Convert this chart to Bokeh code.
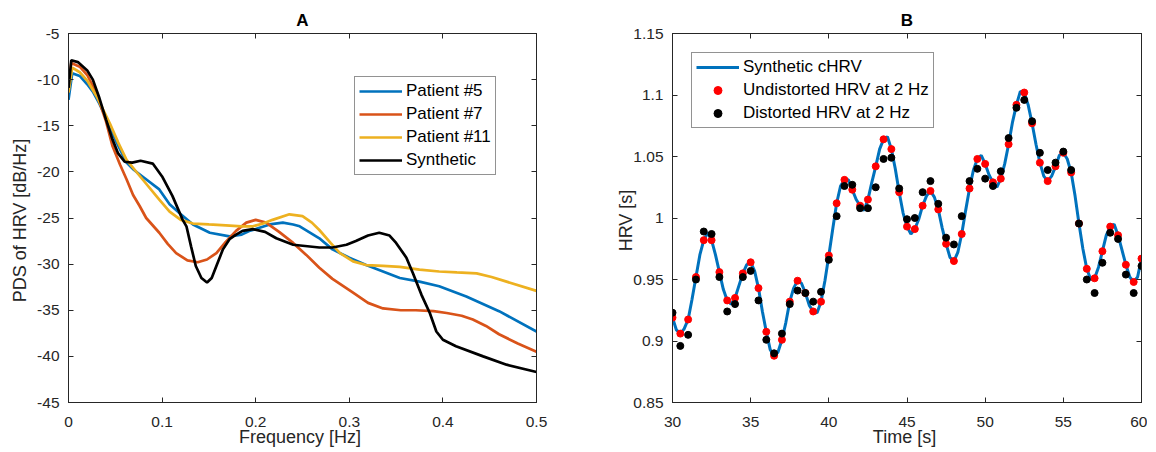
from bokeh.plotting import figure
from bokeh.models import Range1d, FixedTicker, LinearAxis, Legend, LegendItem
from bokeh.layouts import row
from bokeh.embed import file_html
from bokeh.resources import INLINE

FONT = "Liberation Sans"
AX = "#262626"

# ---------------- Panel A: PDS of HRV ----------------
P5_F = [0, 0.004, 0.012, 0.02, 0.026, 0.033, 0.04, 0.05, 0.062, 0.07, 0.079, 0.097, 0.108,
        0.12, 0.133, 0.151, 0.172, 0.185, 0.193, 0.2, 0.215, 0.229, 0.24, 0.247, 0.268,
        0.282, 0.3, 0.318, 0.354, 0.375, 0.396, 0.425, 0.46, 0.5]
P5_DB = [-12.2, -9.3, -9.6, -10.5, -11.3, -12.6, -14.1, -16.5, -19.0, -19.8, -20.5, -21.9, -23.5,
         -24.6, -25.7, -26.6, -27.0, -26.8, -26.4, -26.2, -25.7, -25.5, -25.7, -25.9, -27.2,
         -28.4, -29.3, -30.1, -31.5, -31.9, -32.4, -33.5, -35.1, -37.3]

P7_F = [0, 0.003, 0.012, 0.02, 0.03, 0.04, 0.047, 0.055, 0.062, 0.069, 0.076, 0.083, 0.097,
        0.106, 0.115, 0.127, 0.138, 0.148, 0.158, 0.168, 0.179, 0.19, 0.2, 0.211, 0.225,
        0.24, 0.254, 0.268, 0.282, 0.304, 0.32, 0.336, 0.355, 0.371, 0.39, 0.404, 0.42,
        0.432, 0.446, 0.46, 0.48, 0.5]
P7_DB = [-10.8, -8.2, -8.6, -9.5, -11.5, -14.5, -17.2, -19.2, -20.8, -22.5, -23.7, -25.0, -26.6,
         -27.8, -28.8, -29.6, -29.8, -29.5, -28.8, -27.6, -26.4, -25.5, -25.2, -25.5, -26.5,
         -27.7, -29.0, -30.4, -31.6, -33.1, -34.2, -34.8, -35.0, -35.0, -35.1, -35.3, -35.6,
         -36.0, -36.7, -37.6, -38.6, -39.5]

P11_F = [0, 0.004, 0.012, 0.02, 0.03, 0.044, 0.053, 0.062, 0.079, 0.097, 0.108, 0.12, 0.133,
         0.15, 0.168, 0.185, 0.197, 0.208, 0.218, 0.236, 0.25, 0.26, 0.268, 0.28, 0.29,
         0.304, 0.318, 0.336, 0.354, 0.375, 0.396, 0.415, 0.436, 0.452, 0.468, 0.5]
P11_DB = [-11.4, -8.7, -9.2, -10.1, -11.8, -14.7, -16.8, -18.7, -20.8, -23.0, -24.3, -25.2, -25.6,
          -25.7, -25.8, -25.9, -25.9, -25.6, -25.2, -24.6, -24.8, -25.5, -26.3, -27.7, -28.8,
          -29.7, -30.1, -30.2, -30.3, -30.6, -30.8, -30.9, -31.0, -31.4, -31.9, -32.9]

SYN_F = [0, 0.003, 0.01, 0.02, 0.026, 0.033, 0.04, 0.047, 0.053, 0.06, 0.068, 0.077, 0.09,
         0.1, 0.111, 0.122, 0.126, 0.131, 0.136, 0.142, 0.148, 0.153, 0.158, 0.165, 0.172,
         0.179, 0.186, 0.197, 0.21, 0.222, 0.24, 0.268, 0.282, 0.297, 0.307, 0.32, 0.332,
         0.343, 0.35, 0.361, 0.368, 0.377, 0.386, 0.393, 0.4, 0.414, 0.443, 0.468, 0.5]
SYN_DB = [-10.9, -7.9, -8.1, -9.0, -10.0, -12.0, -14.3, -16.5, -18.0, -18.9, -19.0, -18.8, -19.1,
          -20.5, -22.6, -25.2, -25.9, -28.1, -30.2, -31.5, -32.0, -31.5, -30.2, -28.4, -27.3,
          -26.8, -26.4, -26.2, -26.5, -27.2, -27.9, -28.2, -28.2, -27.9, -27.5, -26.9, -26.6,
          -26.9, -27.7, -29.3, -31.0, -33.3, -35.3, -37.3, -38.2, -38.9, -40.0, -40.9, -41.7]

A_X_TICKS = [0, 0.1, 0.2, 0.3, 0.4, 0.5]
A_X_LABELS = ["0", "0.1", "0.2", "0.3", "0.4", "0.5"]
A_Y_TICKS = [-45, -40, -35, -30, -25, -20, -15, -10, -5]
A_Y_LABELS = ["-45", "-40", "-35", "-30", "-25", "-20", "-15", "-10", "-5"]

# ---------------- Panel B: HRV time series ----------------
CHRV_T = [30 + 0.25 * i for i in range(121)]
CHRV_V = [0.919, 0.909, 0.906, 0.910,
          0.9175, 0.934, 0.952, 0.970,
          0.982, 0.988, 0.982, 0.970,
          0.956, 0.942, 0.933, 0.930,
          0.935, 0.945, 0.955, 0.962,
          0.964, 0.957, 0.943, 0.924,
          0.9075, 0.893, 0.888, 0.891,
          0.901, 0.915, 0.932, 0.943,
          0.949, 0.947, 0.939, 0.929,
          0.924, 0.923, 0.932, 0.949,
          0.9695, 0.991, 1.012, 1.026,
          1.031, 1.031, 1.023, 1.015,
          1.010, 1.006, 1.015, 1.029,
          1.042, 1.056, 1.064, 1.066,
          1.056, 1.040, 1.021, 1.004,
          0.993, 0.987, 0.991, 0.999,
          1.010, 1.018, 1.022, 1.017,
          1.007, 0.992, 0.979, 0.968,
          0.965, 0.972, 0.987, 1.006,
          1.024, 1.039, 1.048, 1.051,
          1.044, 1.035, 1.029, 1.025,
          1.032, 1.044, 1.060, 1.078,
          1.092, 1.103, 1.102, 1.092,
          1.077, 1.060, 1.045, 1.034,
          1.030, 1.034, 1.042, 1.051,
          1.053, 1.048, 1.037, 1.018,
          0.9955, 0.975, 0.9587, 0.950,
          0.951, 0.960, 0.973, 0.986,
          0.993, 0.995, 0.986, 0.974,
          0.962, 0.952, 0.948, 0.952,
          0.967]

SAMPLE_T = [30 + 0.5 * i for i in range(61)]
UNDISTORTED = [0.919, 0.906, 0.9175, 0.952, 0.982, 0.982, 0.956, 0.933, 0.935, 0.955,
               0.964, 0.943, 0.9075, 0.888, 0.901, 0.932, 0.949, 0.939, 0.924, 0.932,
               0.9695, 1.012, 1.031, 1.023, 1.010, 1.015, 1.042, 1.064, 1.056, 1.021,
               0.993, 0.991, 1.010, 1.022, 1.007, 0.979, 0.965, 0.987, 1.024, 1.048,
               1.044, 1.029, 1.032, 1.060, 1.092, 1.102, 1.077, 1.045, 1.030, 1.042,
               1.053, 1.037, 0.9955, 0.9587, 0.951, 0.973, 0.993, 0.986, 0.962, 0.948,
               0.967]
DISTORTED = [0.923, 0.896, 0.905, 0.950, 0.989, 0.987, 0.952, 0.924, 0.930, 0.952,
             0.957, 0.933, 0.901, 0.890, 0.906, 0.930, 0.941, 0.939, 0.932, 0.940,
             0.966, 1.0015, 1.026, 1.027, 1.008, 1.008, 1.025, 1.048, 1.049, 1.024,
             0.999, 1.000, 1.021, 1.030, 1.0115, 0.984, 0.9785, 1.0015, 1.030, 1.040,
             1.032, 1.026, 1.038, 1.065, 1.0896, 1.096, 1.0787, 1.053, 1.039, 1.045,
             1.054, 1.039, 0.9955, 0.950, 0.939, 0.9636, 0.988, 0.983, 0.954, 0.939,
             0.961]

B_X_TICKS = [30, 35, 40, 45, 50, 55, 60]
B_X_LABELS = ["30", "35", "40", "45", "50", "55", "60"]
B_Y_TICKS = [0.85, 0.9, 0.95, 1, 1.05, 1.1, 1.15]
B_Y_LABELS = ["0.85", "0.9", "0.95", "1", "1.05", "1.1", "1.15"]


def make_fig(title, width, left, right, xr, yr):
    p = figure(width=width, height=451, title=title, output_backend="svg",
               toolbar_location=None, x_range=Range1d(*xr), y_range=Range1d(*yr),
               min_border_left=left, min_border_right=right,
               min_border_top=33, min_border_bottom=49)
    p.title.align = "center"
    p.title.text_font = FONT
    p.title.text_font_style = "bold"
    p.title.text_font_size = "17px"
    p.title.text_color = "#000000"
    p.title.standoff = 8
    p.xgrid.visible = False
    p.ygrid.visible = False
    p.outline_line_color = AX
    p.outline_line_width = 1
    p.background_fill_color = "white"
    p.border_fill_color = "white"
    return p


def style_axis(ax, ticks, labels, label=None, show_labels=True, label_standoff=0,
               tick_standoff=9):
    ax.ticker = FixedTicker(ticks=ticks)
    ax.major_label_overrides = dict(zip(ticks, labels))
    ax.major_tick_in = 5
    ax.major_tick_out = 0
    ax.minor_tick_in = 0
    ax.minor_tick_out = 0
    ax.axis_line_color = AX
    ax.major_tick_line_color = AX
    ax.major_label_text_font = FONT
    ax.major_label_text_color = AX
    if show_labels:
        ax.major_label_text_font_size = "15.5px"
        ax.major_label_standoff = tick_standoff
    else:
        ax.major_label_text_font_size = "0px"
        ax.major_label_standoff = 0
    if label is not None:
        ax.axis_label = label
        ax.axis_label_text_font = FONT
        ax.axis_label_text_font_size = "18px"
        ax.axis_label_text_font_style = "normal"
        ax.axis_label_text_color = AX
        ax.axis_label_standoff = label_standoff


def add_box_axes(p, xt, yt):
    top = LinearAxis()
    style_axis(top, xt, [""] * len(xt), show_labels=False)
    p.add_layout(top, "above")
    rgt = LinearAxis()
    style_axis(rgt, yt, [""] * len(yt), show_labels=False)
    p.add_layout(rgt, "right")


def style_legend(lg):
    lg.margin = 0
    lg.padding = 4
    lg.spacing = 3
    lg.label_height = 20
    lg.glyph_height = 20
    lg.glyph_width = 43
    lg.label_standoff = 4
    lg.title_standoff = 0
    lg.label_text_font = FONT
    lg.label_text_font_size = "17px"
    lg.label_text_color = "#000000"
    lg.border_line_color = AX
    lg.border_line_width = 1
    lg.background_fill_color = "white"
    lg.background_fill_alpha = 1.0


# ---- Figure A ----
pA = make_fig("A", 566, 68, 30, (0, 0.5), (-45, -5))
style_axis(pA.xaxis[0], A_X_TICKS, A_X_LABELS, "Frequency  [Hz]", label_standoff=-3,
           tick_standoff=14)
style_axis(pA.yaxis[0], A_Y_TICKS, A_Y_LABELS, "PDS of HRV  [dB/Hz]", label_standoff=4)
add_box_axes(pA, A_X_TICKS, A_Y_TICKS)

r5 = pA.line(P5_F, P5_DB, line_color="#0072BD", line_width=2.7)
r7 = pA.line(P7_F, P7_DB, line_color="#D95319", line_width=2.7)
r11 = pA.line(P11_F, P11_DB, line_color="#EDB120", line_width=2.7)
rs = pA.line(SYN_F, SYN_DB, line_color="#000000", line_width=2.7)

legA = Legend(items=[LegendItem(label="Patient #5", renderers=[r5]),
                     LegendItem(label="Patient #7", renderers=[r7]),
                     LegendItem(label="Patient #11", renderers=[r11]),
                     LegendItem(label="Synthetic", renderers=[rs])],
              location=(286, 227))
style_legend(legA)
pA.add_layout(legA)

# ---- Figure B ----
pB = make_fig("B", 581, 106, 6, (30, 60), (0.85, 1.15))
style_axis(pB.xaxis[0], B_X_TICKS, B_X_LABELS, "Time  [s]", label_standoff=-3,
           tick_standoff=14)
style_axis(pB.yaxis[0], B_Y_TICKS, B_Y_LABELS, "HRV  [s]", label_standoff=-6)
add_box_axes(pB, B_X_TICKS, B_Y_TICKS)

rl = pB.line(CHRV_T, CHRV_V, line_color="#0072BD", line_width=3)
rr = pB.scatter(SAMPLE_T, UNDISTORTED, marker="circle", size=7, fill_color="#FF0000",
                line_color="#FF0000")
rb = pB.scatter(SAMPLE_T, DISTORTED, marker="circle", size=7, fill_color="#000000",
                line_color="#000000")

legB = Legend(items=[LegendItem(label="Synthetic cHRV", renderers=[rl]),
                     LegendItem(label="Undistorted HRV at 2 Hz", renderers=[rr]),
                     LegendItem(label="Distorted HRV at 2 Hz", renderers=[rb])],
              location=(19, 274))
style_legend(legB)
pB.add_layout(legB)

layout = row(pA, pB)
open("out.html", "w").write(file_html(layout, INLINE))
